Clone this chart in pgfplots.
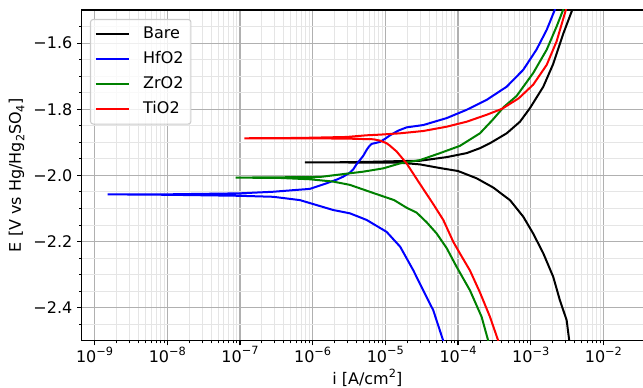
\documentclass[border=0pt]{standalone}
\usepackage{fontspec}
\setmainfont{DejaVu Sans}
\usepackage{pgfplots}
\pgfplotsset{compat=1.18}
\usetikzlibrary{calc}
\definecolor{majgrid}{RGB}{176,176,176}
\definecolor{mingrid}{RGB}{229,229,229}
\definecolor{legedge}{RGB}{204,204,204}
\definecolor{mplgreen}{RGB}{0,128,0}
\newcommand{\sups}[1]{\raisebox{0.45em}{\fontsize{8.5}{10}\selectfont #1}}
\newcommand{\subs}[1]{\raisebox{-0.22em}{\fontsize{8.5}{10}\selectfont #1}}
\begin{document}
\begin{tikzpicture}[font=\fontsize{12}{14.4}\selectfont]
\begin{axis}[
  scale only axis, width=428.4pt, height=248pt,
  xmode=log, xmin=6.65e-10, xmax=0.0479,
  ymin=-2.5, ymax=-1.5,
  xtick={1e-9,1e-8,1e-7,1e-6,1e-5,1e-4,1e-3,1e-2},
  xticklabels={10\sups{−9},10\sups{−8},10\sups{−7},10\sups{−6},10\sups{−5},10\sups{−4},10\sups{−3},10\sups{−2}},
  ytick={-2.4,-2.2,-2.0,-1.8,-1.6},
  yticklabels={−2.4,−2.2,−2.0,−1.8,−1.6},
  minor ytick={-2.45,-2.35,-2.3,-2.25,-2.15,-2.1,-2.05,-1.95,-1.9,-1.85,-1.75,-1.7,-1.65,-1.55},
  tick pos=left, tick align=outside,
  major tick length=3.5pt, minor tick length=2pt,
  every tick/.style={black, line width=0.8pt},
  minor tick style={black, line width=0.6pt},
  axis line style={line width=0.8pt},
  grid=both,
  major grid style={majgrid, line width=0.8pt},
  minor grid style={mingrid, line width=0.6pt},
  xticklabel style={yshift=2.5pt},
  xlabel={i [A/cm\sups{2}]},
  xlabel style={yshift=2pt},
  ylabel={E [V vs Hg/Hg\subs{2}SO\subs{4}]},
  legend cell align=left,
  legend image code/.code={\draw[#1] (0pt,0pt) -- (25pt,0pt);},
  legend style={at={(0,1)}, anchor=north west, xshift=6.2pt, yshift=-6.75pt,
    draw=legedge, rounded corners=2pt, fill=white, fill opacity=0.8, text opacity=1, draw opacity=1,
    line width=0.8pt, inner xsep=3pt, inner ysep=2.5pt, row sep=1.8pt,
    /tikz/every odd column/.append style={column sep=7.5pt},
    nodes={inner sep=2.5pt, text height=9pt, text depth=3pt}},
  every axis plot/.append style={line width=1.5pt},
]
\addplot[black] coordinates {
(3.39e-3,-2.50)(3.12e-3,-2.438)(2.52e-3,-2.378)(2.04e-3,-2.307)(1.49e-3,-2.236)(1.08e-3,-2.176)
(7.89e-4,-2.125)(5.18e-4,-2.075)(3.05e-4,-2.037)(1.80e-4,-2.009)(1.0e-4,-1.987)(5.64e-5,-1.978)
(2.99e-5,-1.967)(1.59e-5,-1.962)(6.76e-6,-1.962)(2.37e-6,-1.961)(7.83e-7,-1.961)
(2.37e-6,-1.9605)(6.76e-6,-1.959)(1.59e-5,-1.957)(2.99e-5,-1.956)(6.97e-5,-1.945)(1.31e-4,-1.933)
(2.00e-4,-1.918)(2.75e-4,-1.903)(4.67e-4,-1.873)(7.11e-4,-1.838)(9.75e-4,-1.797)(1.49e-3,-1.732)
(2.04e-3,-1.663)(2.80e-3,-1.572)(3.74e-3,-1.499)(4.3e-3,-1.45)
};
\addlegendentry{Bare}
\addplot[blue] coordinates {
(6.9e-5,-2.54)(6.25e-5,-2.50)(4.56e-5,-2.408)(3.32e-5,-2.348)(2.42e-5,-2.287)(1.60e-5,-2.216)(1.04e-5,-2.171)
(5.53e-6,-2.135)(3.26e-6,-2.115)(1.92e-6,-2.105)(6.68e-7,-2.075)(2.87e-7,-2.065)(1.0e-7,-2.062)
(1.10e-8,-2.059)(1.51e-9,-2.0576)
(1.10e-8,-2.0574)(1.0e-7,-2.0545)(2.87e-7,-2.0497)(9.18e-7,-2.041)(1.56e-6,-2.024)(2.2e-6,-2.012)(2.64e-6,-2.004)
(3.2e-6,-1.993)(3.62e-6,-1.982)(4.03e-6,-1.966)(4.5e-6,-1.953)(4.97e-6,-1.941)(5.53e-6,-1.923)(6.0e-6,-1.912)(6.49e-6,-1.905)(8.43e-6,-1.899)
(1.0e-5,-1.889)(1.16e-5,-1.879)(1.5e-5,-1.865)(1.96e-5,-1.855)(3.32e-5,-1.848)(6.97e-5,-1.827)(1.31e-4,-1.802)(2.47e-4,-1.772)
(4.67e-4,-1.732)(7.89e-4,-1.681)(1.20e-3,-1.620)(1.66e-3,-1.560)(2.15e-3,-1.499)(2.6e-3,-1.44)
};
\addlegendentry{HfO2}
\addplot[mplgreen] coordinates {
(2.9e-4,-2.54)(2.60e-4,-2.50)(2.11e-4,-2.428)(1.46e-4,-2.348)(9.57e-5,-2.277)(6.97e-5,-2.220)(5.08e-5,-2.176)
(3.70e-5,-2.142)(2.70e-5,-2.113)(1.96e-5,-2.098)(1.32e-5,-2.075)(6.14e-6,-2.050)(3.26e-6,-2.029)
(1.92e-6,-2.019)(9.18e-7,-2.012)(3.55e-7,-2.008)(8.73e-8,-2.007)
(3.55e-7,-2.006)(1.26e-6,-2.005)(2.94e-6,-1.995)(4.97e-6,-1.989)(9.35e-6,-1.979)(1.59e-5,-1.964)
(2.99e-5,-1.954)(5.64e-5,-1.933)(1.06e-4,-1.911)(2.00e-4,-1.873)(3.0e-4,-1.832)(4.28e-4,-1.793)(6.40e-4,-1.760)
(1.08e-3,-1.691)(1.66e-3,-1.620)(2.27e-3,-1.550)(2.80e-3,-1.499)(3.3e-3,-1.45)
};
\addlegendentry{ZrO2}
\addplot[red] coordinates {
(3.9e-4,-2.54)(3.57e-4,-2.50)(2.75e-4,-2.428)(2.00e-4,-2.354)(1.46e-4,-2.288)(1.06e-4,-2.236)(8.59e-5,-2.201)
(6.27e-5,-2.135)(4.56e-5,-2.087)(2.99e-5,-2.026)(1.96e-5,-1.964)(1.43e-5,-1.928)(1.15e-5,-1.910)(1.04e-5,-1.903)
(8.43e-6,-1.895)(6.82e-6,-1.891)(2.94e-6,-1.889)(6.68e-7,-1.888)(1.15e-7,-1.888)
(6.68e-7,-1.887)(2.94e-6,-1.884)(5.53e-6,-1.879)(8.43e-6,-1.877)(1.59e-5,-1.873)(3.32e-5,-1.866)
(6.97e-5,-1.853)(1.31e-4,-1.838)(2.47e-4,-1.817)(4.02e-4,-1.799)(6.85e-4,-1.767)(1.08e-3,-1.726)
(1.66e-3,-1.666)(2.27e-3,-1.595)(3.05e-3,-1.499)(3.6e-3,-1.44)
};
\addlegendentry{TiO2}
\coordinate (ll) at (rel axis cs:0,0);
\end{axis}
\pgfresetboundingbox
\path[use as bounding box] ($(ll)+(-61.3pt,-35.5pt)$) rectangle ($(ll)+(421pt,255.5pt)$);
\end{tikzpicture}
\end{document}
